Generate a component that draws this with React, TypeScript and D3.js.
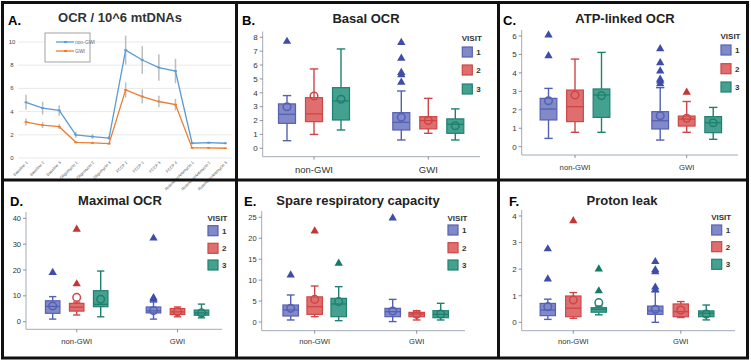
import React from "react";
import * as d3 from "d3";

// ---------- Panel A data ----------
const ocrCategories = [
  "Baseline 1", "Baseline 2", "Baseline 3",
  "Oligomycin 1", "Oligomycin 2", "Oligomycin 3",
  "FCCP 1", "FCCP 2", "FCCP 3", "FCCP 4",
  "Rotenone/Antimycin 1", "Rotenone/Antimycin 2", "Rotenone/Antimycin 3",
];
const ocrNonGWI = [4.8, 4.3, 4.1, 2.0, 1.85, 1.72, 9.3, 8.45, 7.8, 7.5, 1.27, 1.32, 1.27];
const ocrNonGWIErr = [0.65, 0.55, 0.45, 0.25, 0.2, 0.17, 1.25, 1.2, 1.15, 1.05, 0.1, 0.1, 0.1];
const ocrGWI = [3.1, 2.83, 2.7, 1.35, 1.3, 1.24, 5.87, 5.3, 4.87, 4.6, 0.87, 0.87, 0.84];
const ocrGWIErr = [0.3, 0.25, 0.2, 0.1, 0.1, 0.1, 0.65, 0.6, 0.5, 0.5, 0.05, 0.05, 0.05];
const ocrTicks = [0, 2, 4, 6, 8, 10];
const ocrSeries = ["non-GWI", "GWI"];

// ---------- Box panels data ----------
const groups = ["non-GWI", "GWI"];
const visits = ["1", "2", "3"];
// each row: [whiskerLow, q1, median, q3, whiskerHigh, mean]; order non-GWI v1..v3, GWI v1..v3
const basalStats = [
  [0.55, 1.8, 2.45, 3.2, 3.8, 3.0],
  [1.0, 1.92, 2.48, 3.65, 5.72, 3.77],
  [1.32, 2.04, 3.41, 4.37, 7.16, 3.53],
  [0.6, 1.32, 1.87, 2.57, 4.13, 2.24],
  [1.08, 1.4, 2.0, 2.28, 3.6, 2.0],
  [0.6, 1.08, 1.73, 2.12, 2.84, 1.63],
];
const basalOutliers = [[7.7], [], [], [4.76, 5.29, 5.46, 6.49, 7.62], [], []];
const basalTicks = [0, 1, 2, 3, 4, 5, 6, 7, 8];

const atpStats = [
  [0.45, 1.45, 2.04, 2.62, 3.16, 2.49],
  [0.78, 1.36, 2.17, 3.07, 4.75, 2.8],
  [0.78, 1.59, 2.8, 3.13, 5.11, 2.77],
  [0.36, 0.96, 1.41, 1.9, 3.2, 1.68],
  [0.78, 1.12, 1.5, 1.66, 2.45, 1.54],
  [0.4, 0.76, 1.3, 1.63, 2.13, 1.3],
];
const atpOutliers = [[4.93, 6.05], [], [], [3.4, 3.55, 3.65, 4.1, 4.55, 5.3], [2.95], []];
const atpTicks = [0, 1, 2, 3, 4, 5, 6];

const maxStats = [
  [1.0, 3.25, 5.9, 8.1, 9.7, 6.1],
  [2.6, 4.1, 5.6, 7.1, 7.6, 9.4],
  [1.9, 5.8, 6.7, 12.0, 19.6, 8.7],
  [1.0, 3.4, 4.2, 5.7, 7.6, 4.3],
  [1.9, 2.8, 3.8, 5.1, 5.7, 3.8],
  [1.5, 2.5, 3.4, 4.5, 6.8, 3.4],
];
const maxOutliers = [[19], [14.6, 35.7], [], [8.6, 9.2, 32.3], [], []];
const maxTicks = [0, 10, 20, 30, 40];

const spareStats = [
  [0.48, 1.43, 2.87, 4.06, 6.45, 3.26],
  [1.27, 1.83, 3.66, 6.0, 8.6, 5.4],
  [0.32, 1.27, 4.3, 5.65, 8.44, 4.86],
  [0.1, 1.27, 2.47, 3.26, 5.4, 2.63],
  [0.48, 1.27, 1.9, 2.3, 2.7, 1.83],
  [0.48, 1.03, 1.83, 2.7, 4.46, 1.9],
];
const spareOutliers = [[11.2], [21.7], [14.0], [24.8], [], []];
const spareTicks = [0, 5, 10, 15, 20, 25];

const protonStats = [
  [0.11, 0.25, 0.46, 0.71, 0.87, 0.59],
  [0.15, 0.21, 0.53, 0.99, 1.12, 0.84],
  [0.28, 0.38, 0.49, 0.55, 0.61, 0.74],
  [0.0, 0.3, 0.43, 0.61, 1.15, 0.49],
  [0.18, 0.21, 0.4, 0.69, 0.78, 0.46],
  [0.09, 0.21, 0.34, 0.43, 0.65, 0.31],
];
const protonOutliers = [[1.63, 2.76], [3.82], [1.18, 2.0], [1.22, 1.32, 1.9, 1.97, 2.28], [], []];
const protonTicks = [0, 1, 2, 3, 4];

// ---------- styles ----------
const FONT = "'Liberation Sans', Arial, Helvetica, sans-serif";
const visitFill = ["#8189c9", "#df6f6f", "#44a08f"];
const visitStroke = ["#5461b3", "#cf4545", "#208070"];
const visitMark = ["#3e4cab", "#c23636", "#137a66"];
const lineColors = ["#5b9bd5", "#ed7d31"];

type Layout = {
  letter: string; letterX: number; letterY: number;
  title: string; titleX: number; titleY: number;
  yDomain: [number, number]; yBottom: number; yTop: number; axisTop: number;
  axisX: number; axisEnd: number; xAxisY: number;
  c1: number; c2: number; off: number; boxW: number;
  catY: number; catFont: number; tickFont: number;
  legX: number; legTitleY: number; legYs: number[];
};

function BoxPanel({ L, stats, outliers, ticks }: { L: Layout; stats: number[][]; outliers: number[][]; ticks: number[] }) {
  const y = d3.scaleLinear().domain(L.yDomain).range([L.yBottom, L.yTop]);
  const step = L.c2 - L.c1;
  const xg = d3.scaleBand().domain(groups).range([L.c1 - step / 2, L.c2 + step / 2]);
  const xv = d3.scalePoint().domain(visits).range([-L.off, L.off]);
  const hw = L.boxW / 2;
  const cap = L.boxW * 0.25;
  const tri = d3.symbol().type(d3.symbolTriangle).size(30);
  return (
    <g>
      <text x={L.letterX} y={L.letterY} fontSize={13} fontWeight="bold" fontFamily={FONT}>{L.letter}</text>
      <text x={L.titleX} y={L.titleY} fontSize={13} fontWeight="bold" fontFamily={FONT} textAnchor="middle" fill="#222">{L.title}</text>
      {/* axes */}
      <line x1={L.axisX} x2={L.axisX} y1={L.axisTop} y2={L.xAxisY} stroke="#a3abbb" strokeWidth={1} />
      <line x1={L.axisX} x2={L.axisEnd} y1={L.xAxisY} y2={L.xAxisY} stroke="#a3abbb" strokeWidth={1} />
      {ticks.map((t) => (
        <g key={t}>
          <line x1={L.axisX - 3} x2={L.axisX} y1={y(t)} y2={y(t)} stroke="#777" strokeWidth={0.8} />
          <text x={L.axisX - 5} y={y(t) + L.tickFont * 0.35} fontSize={L.tickFont} fontFamily={FONT} textAnchor="end" fill="#333">{t}</text>
        </g>
      ))}
      {groups.map((g) => {
        const cx = (xg(g) as number) + xg.bandwidth() / 2;
        return (
          <g key={g}>
            <line x1={cx} x2={cx} y1={L.xAxisY} y2={L.xAxisY + 3} stroke="#777" strokeWidth={0.8} />
            <text x={cx} y={L.catY} fontSize={L.catFont} fontFamily={FONT} textAnchor="middle" fill="#333">{g}</text>
          </g>
        );
      })}
      {/* boxes */}
      {stats.map((s, i) => {
        const gi = Math.floor(i / 3);
        const vi = i % 3;
        const cx = (xg(groups[gi]) as number) + xg.bandwidth() / 2 + (xv(visits[vi]) as number);
        const [lo, q1, med, q3, hi, mean] = s;
        const st = visitStroke[vi];
        return (
          <g key={i}>
            <line x1={cx} x2={cx} y1={y(q3)} y2={y(hi)} stroke={st} strokeWidth={1.4} />
            <line x1={cx} x2={cx} y1={y(q1)} y2={y(lo)} stroke={st} strokeWidth={1.4} />
            <line x1={cx - cap} x2={cx + cap} y1={y(hi)} y2={y(hi)} stroke={st} strokeWidth={1.4} />
            <line x1={cx - cap} x2={cx + cap} y1={y(lo)} y2={y(lo)} stroke={st} strokeWidth={1.4} />
            <rect x={cx - hw} y={y(q3)} width={L.boxW} height={Math.max(0.5, y(q1) - y(q3))} fill={visitFill[vi]} stroke={st} strokeWidth={1.2} />
            <line x1={cx - hw} x2={cx + hw} y1={y(med)} y2={y(med)} stroke={st} strokeWidth={1.3} />
            <circle cx={cx} cy={y(mean)} r={3.8} fill="none" stroke={st} strokeWidth={1.5} />
            {outliers[i].map((o, k) => (
              <path key={k} d={tri() as string} transform={`translate(${cx},${y(o)})`} fill={visitMark[vi]} />
            ))}
          </g>
        );
      })}
      {/* legend */}
      <text x={L.legX + 9.5} y={L.legTitleY + 3} fontSize={8} fontWeight="bold" fontFamily={FONT} textAnchor="middle" fill="#333">VISIT</text>
      {visits.map((v, vi) => (
        <g key={v}>
          <rect x={L.legX} y={L.legYs[vi] - 5} width={10} height={10} fill={visitFill[vi]} stroke={visitStroke[vi]} strokeWidth={1.2} />
          <text x={L.legX + 14} y={L.legYs[vi] + 3} fontSize={8} fontWeight="bold" fontFamily={FONT} fill="#333">{v}</text>
        </g>
      ))}
    </g>
  );
}

const layoutB: Layout = {
  letter: "B.", letterX: 242, letterY: 25, title: "Basal OCR", titleX: 366, titleY: 23,
  yDomain: [0, 8], yBottom: 148.3, yTop: 37.3, axisTop: 31.5, axisX: 262.7, axisEnd: 480, xAxisY: 156.7,
  c1: 314, c2: 428.3, off: 27, boxW: 17, catY: 173, catFont: 9.5, tickFont: 8,
  legX: 462.3, legTitleY: 38, legYs: [52, 70, 89],
};
const layoutC: Layout = {
  letter: "C.", letterX: 503, letterY: 25, title: "ATP-linked OCR", titleX: 625, titleY: 23,
  yDomain: [0, 6], yBottom: 146.7, yTop: 36, axisTop: 30, axisX: 521.7, axisEnd: 738, xAxisY: 155,
  c1: 575, c2: 686.7, off: 26.5, boxW: 16.7, catY: 169.5, catFont: 7.7, tickFont: 8,
  legX: 721, legTitleY: 36, legYs: [50, 68.7, 87],
};
const layoutD: Layout = {
  letter: "D.", letterX: 10, letterY: 206, title: "Maximal OCR", titleX: 120, titleY: 205,
  yDomain: [0, 40], yBottom: 321.7, yTop: 218.3, axisTop: 212, axisX: 26, axisEnd: 222, xAxisY: 329.3,
  c1: 76.7, c2: 177.5, off: 24, boxW: 14.5, catY: 344, catFont: 7.7, tickFont: 7.5,
  legX: 208, legTitleY: 217.7, legYs: [230.7, 248.3, 265],
};
const layoutE: Layout = {
  letter: "E.", letterX: 244, letterY: 206, title: "Spare respiratory capacity", titleX: 358, titleY: 205,
  yDomain: [0, 25], yBottom: 322, yTop: 217.3, axisTop: 211, axisX: 261.7, axisEnd: 465, xAxisY: 330.7,
  c1: 314.7, c2: 416.7, off: 24, boxW: 15.5, catY: 344, catFont: 7.7, tickFont: 7.5,
  legX: 448, legTitleY: 217.7, legYs: [230, 247.7, 265],
};
const layoutF: Layout = {
  letter: "F.", letterX: 509, letterY: 206, title: "Proton leak", titleX: 622, titleY: 205,
  yDomain: [0, 4], yBottom: 322.3, yTop: 216, axisTop: 210, axisX: 521.7, axisEnd: 735, xAxisY: 330.7,
  c1: 573.3, c2: 680.8, off: 25.5, boxW: 15.3, catY: 344, catFont: 7.7, tickFont: 8,
  legX: 711.7, legTitleY: 216.7, legYs: [230, 246.7, 264.3],
};

function PanelA() {
  const x = d3.scalePoint().domain(ocrCategories).range([26, 225.3]);
  const y = d3.scaleLinear().domain([0, 10]).range([158, 42]);
  const series = [
    { name: ocrSeries[0], vals: ocrNonGWI, err: ocrNonGWIErr, color: lineColors[0] },
    { name: ocrSeries[1], vals: ocrGWI, err: ocrGWIErr, color: lineColors[1] },
  ];
  const line = d3.line<number>().x((_, i) => x(ocrCategories[i]) as number).y((d) => y(d));
  return (
    <g>
      <text x={8} y={25} fontSize={13} fontWeight="bold" fontFamily={FONT}>A.</text>
      <text x={120} y={22} fontSize={13} fontWeight="bold" fontFamily={FONT} textAnchor="middle" fill="#333">OCR / 10^6 mtDNAs</text>
      {ocrTicks.map((t) => (
        <g key={t}>
          <line x1={18} x2={232} y1={y(t)} y2={y(t)} stroke="#e3e3e3" strokeWidth={0.8} />
          <text x={12} y={y(t) + 2} fontSize={6} fontFamily={FONT} textAnchor="middle" fill="#444">{t}</text>
        </g>
      ))}
      {series.map((s) => (
        <g key={s.name}>
          {s.vals.map((v, i) => (
            <line key={i} x1={x(ocrCategories[i]) as number} x2={x(ocrCategories[i]) as number}
              y1={y(v - s.err[i])} y2={y(v + s.err[i])} stroke="#bdbdbd" strokeWidth={1.5} />
          ))}
          <path d={line(s.vals) as string} fill="none" stroke={s.color} strokeWidth={1.3} />
          {s.vals.map((v, i) => (
            <line key={"m" + i} x1={(x(ocrCategories[i]) as number) - 1.5} x2={(x(ocrCategories[i]) as number) + 1.5}
              y1={y(v)} y2={y(v)} stroke={s.color} strokeWidth={1.6} />
          ))}
        </g>
      ))}
      {ocrCategories.map((c) => (
        <text key={c} transform={`translate(${(x(c) as number) + 2},${163}) rotate(-45)`} fontSize={4} fontFamily={FONT}
          textAnchor="end" fill="#555">{c}</text>
      ))}
      {/* legend */}
      <rect x={45} y={33} width={45} height={29} fill="#fff" stroke="#8c8c8c" strokeWidth={0.8} />
      {series.map((s, i) => (
        <g key={"l" + s.name}>
          <line x1={56} x2={74} y1={42 + i * 9} y2={42 + i * 9} stroke={s.color} strokeWidth={1.3} />
          <line x1={64} x2={67} y1={42 + i * 9} y2={42 + i * 9} stroke={s.color} strokeWidth={2} />
          <text x={75} y={43.8 + i * 9} fontSize={5} fontFamily={FONT} fill="#666">{s.name}</text>
        </g>
      ))}
    </g>
  );
}

export default function App() {
  return (
    <svg width={751} height={361} style={{ position: "absolute", left: 0, top: 0, background: "#fff" }}>
      <rect x={0} y={0} width={751} height={361} fill="#fff" />
      <PanelA />
      <BoxPanel L={layoutB} stats={basalStats} outliers={basalOutliers} ticks={basalTicks} />
      <BoxPanel L={layoutC} stats={atpStats} outliers={atpOutliers} ticks={atpTicks} />
      <BoxPanel L={layoutD} stats={maxStats} outliers={maxOutliers} ticks={maxTicks} />
      <BoxPanel L={layoutE} stats={spareStats} outliers={spareOutliers} ticks={spareTicks} />
      <BoxPanel L={layoutF} stats={protonStats} outliers={protonOutliers} ticks={protonTicks} />
      {/* panel frame */}
      <rect x={2.5} y={2.5} width={745} height={355.5} fill="none" stroke="#111" strokeWidth={3} />
      <line x1={2} x2={748} y1={180} y2={180} stroke="#111" strokeWidth={3} />
      <line x1={236.5} x2={236.5} y1={2} y2={358} stroke="#111" strokeWidth={3} />
      <line x1={498.5} x2={498.5} y1={2} y2={358} stroke="#111" strokeWidth={3} />
    </svg>
  );
}
